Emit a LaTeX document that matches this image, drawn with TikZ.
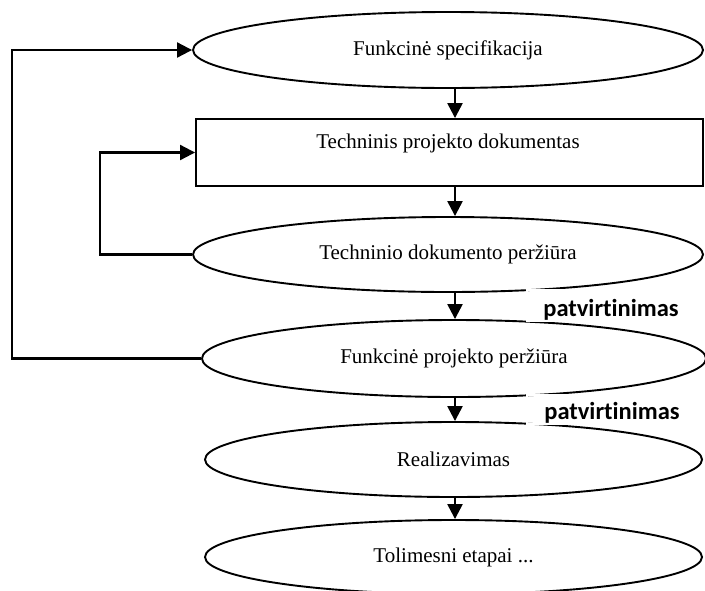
\documentclass[tikz,border=0pt]{standalone}
\usepackage{fontspec}
\setmainfont{Liberation Serif}
\newfontfamily\labelfont[Ligatures=NoCommon]{Carlito}
\usetikzlibrary{shapes.geometric,arrows.meta}
\begin{document}
\begin{tikzpicture}[x=1pt,y=-1pt,
  stage/.style={ellipse,draw,line width=1.9pt,inner sep=0pt,font=\fontsize{21}{25}\selectfont},
  docbox/.style={rectangle,draw,line width=1.9pt,inner sep=0pt},
  bodytext/.style={inner sep=0pt,font=\fontsize{21}{25}\selectfont},
  flow/.style={line width=2.4pt,-{Triangle[length=15pt,width=15pt]}},
  back/.style={line width=2.1pt,-{Triangle[length=15pt,width=15pt]}},
  note/.style={inner sep=0pt,font=\labelfont\bfseries\fontsize{24.5}{28}\selectfont},
  gap/.style={draw=white,line width=1.5pt}]
\useasboundingbox (0,0) rectangle (705,590);

% process stages
\node[stage,minimum width=510pt,minimum height=76pt] (spec) at (448,50) {Funkcinė specifikacija};
\node[docbox,minimum width=507pt,minimum height=67pt] (tech) at (449.5,152.5) {};
\node[bodytext] (techtext) at (448,143) {Techninis projekto dokumentas};
\node[stage,minimum width=510pt,minimum height=75pt] (review) at (448,254.5) {Techninio dokumento peržiūra};
\node[stage,minimum width=504pt,minimum height=77pt] (funcrev) at (454,358.5) {Funkcinė projekto peržiūra};
\node[stage,minimum width=497pt,minimum height=75pt] (impl) at (453.5,459.5) {Realizavimas};
\node[stage,minimum width=497pt,minimum height=74pt] (next) at (453.5,557) {Tolimesni etapai ...};

% main flow
\coordinate (ax) at (455,0);
\draw[flow] (spec.south -| ax) -- (tech.north -| ax);
\draw[flow] (tech.south -| ax) -- (review.north -| ax);
\draw[flow] (review.south -| ax) -- (funcrev.north -| ax);
\draw[flow] (funcrev.south -| ax) -- (impl.north -| ax);
\draw[flow] (impl.south -| ax) -- (next.north -| ax);

% feedback loops
\coordinate (outer) at (12,0);
\coordinate (inner) at (100,0);
\draw[back] (funcrev.west) -- (funcrev.west -| outer) |- (spec.west);
\draw[back] (review.west) -- (review.west -| inner) |- (tech.west);

% approval labels in white-framed boxes
\draw[gap] (527,290) rectangle (697,321);
\node[note] (ok1) at (611,310) {patvirtinimas};
\draw[gap] (527,395) rectangle (697,424);
\node[note] (ok2) at (612,413) {patvirtinimas};
\end{tikzpicture}
\end{document}
